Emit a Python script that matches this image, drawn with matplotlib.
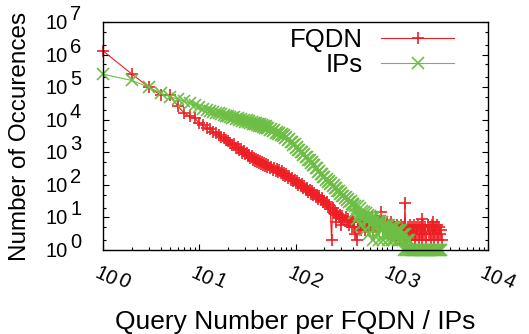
import matplotlib
matplotlib.use('Agg')
import matplotlib.pyplot as plt
from matplotlib.ticker import LogLocator, NullFormatter

plt.rcParams['font.family'] = ['Liberation Sans', 'DejaVu Sans']

RED = '#ee1f24'
GREEN = '#6cbf44'

# occurrences of each query number, FQDN
fqdn_x = [1, 2, 3, 4, 5, 6, 7, 8, 9, 10,
          11, 12, 13, 14, 15, 16, 17, 18, 19, 20,
          21, 22, 23, 24, 25, 26, 27, 28, 29, 30,
          31, 32, 33, 34, 35, 36, 37, 38, 39, 40,
          41, 42, 43, 44, 45, 46, 47, 48, 49, 50,
          52, 54, 56, 58, 60, 62, 64, 66, 68, 70,
          72, 74, 76, 78, 80, 83, 86, 89, 92, 95,
          98, 101, 104, 107, 110, 113, 116, 120, 124, 128,
          132, 136, 140, 144, 148, 152, 157, 162, 167, 172,
          177, 182, 188, 194, 200, 206, 212, 218, 224, 230,
          237, 243, 250, 257, 262, 265, 272, 280, 288, 296,
          300, 305, 314, 323, 332, 342, 352, 362, 373, 384,
          395, 400, 410, 420, 431, 442, 453, 464, 476, 488,
          500, 512, 525, 538, 552, 566, 580, 594, 609, 624,
          640, 656, 672, 689, 706, 724, 742, 761, 780, 799,
          819, 840, 861, 882, 904, 927, 950, 974, 998, 1023,
          1049, 1075, 1102, 1130, 1158, 1187, 1217, 1247, 1278, 1310,
          1343, 1370, 1400, 1435, 1471, 1508, 1546, 1585, 1624, 1665,
          1707, 1749, 1793, 1838, 1884, 1931, 1979, 2029, 2050, 2080,
          2132, 2185, 2240, 2296, 2353, 2412, 2472, 2534, 2597, 2662,
          2700, 2729, 2797, 2867, 2939, 3012, 3088, 3165, 3244, 3300]
fqdn_y = [1300000, 250000, 100000, 56000, 57000, 26000, 16000, 12600, 11000, 7900,
          7100, 5600, 5100, 4200, 3900, 3300, 3050, 2650, 2450, 2250,
          1980, 1640, 1750, 1330, 1480, 1150, 1280, 970, 1090, 860,
          960, 760, 850, 680, 770, 600, 690, 550, 630, 500,
          580, 470, 540, 440, 505, 405, 470, 380, 440, 355,
          405, 320, 365, 290, 330, 265, 305, 245, 282, 225,
          258, 204, 235, 186, 214, 166, 187, 144, 163, 128,
          145, 112, 127, 100, 115, 91, 105, 81, 92, 71,
          80, 62, 70, 54, 63, 50, 56, 43, 49, 38,
          44, 34, 39, 29, 33, 25, 29, 21, 24, 18,
          2, 19, 14, 16, 7, 12, 14, 10, 12, 9,
          6, 11, 9, 8, 10, 7, 9, 6, 8, 5,
          7, 8, 5, 3, 2, 7, 5, 9, 4, 8,
          6, 10, 4, 7, 5, 9, 4, 8, 6, 10,
          4, 7, 5, 9, 4, 8, 5, 7, 15, 6,
          4, 8, 5, 7, 3, 6, 4, 7, 3, 6,
          4, 5, 2, 6, 3, 5, 2, 6, 3, 5,
          2, 28, 4, 2, 5, 3, 6, 2, 5, 3,
          6, 2, 5, 3, 6, 2, 5, 3, 9, 2,
          6, 3, 5, 2, 6, 3, 5, 2, 6, 3,
          7, 2, 5, 3, 6, 2, 5, 3, 4, 2]

# occurrences of each query number, IPs
ip_x = [1, 2, 3, 4, 5, 6, 7, 8, 9, 10,
        11, 12, 13, 14, 15, 16, 17, 18, 19, 20,
        21, 22, 23, 24, 25, 26, 27, 28, 29, 30,
        31, 32, 33, 34, 35, 36, 37, 38, 39, 40,
        41, 42, 43, 44, 45, 46, 47, 48, 49, 50,
        52, 54, 56, 58, 60, 62, 64, 66, 68, 70,
        72, 74, 76, 78, 80, 83, 86, 89, 92, 95,
        98, 101, 104, 107, 110, 113, 116, 120, 124, 128,
        132, 136, 140, 144, 148, 152, 157, 162, 167, 172,
        177, 182, 188, 194, 200, 206, 212, 218, 224, 230,
        236, 243, 250, 257, 265, 272, 280, 288, 296, 305,
        314, 323, 332, 342, 352, 362, 373, 384, 395, 400,
        410, 420, 431, 442, 453, 464, 476, 488, 500, 512,
        525, 538, 552, 566, 580, 594, 609, 624, 640, 656,
        672, 689, 706, 724, 742, 761, 780, 799, 819, 840,
        861, 882, 904, 927, 950, 974, 998, 1023, 1049, 1075,
        1102, 1130, 1158, 1187, 1217, 1247, 1278, 1310, 1343, 1377,
        1411, 1447, 1483, 1520, 1558, 1597, 1637, 1678, 1720, 1763,
        1807, 1852, 1899, 1946, 1995, 2045, 2096, 2148, 2202, 2257,
        2314, 2371, 2431, 2491, 2554, 2618, 2683, 2750, 2819, 2889,
        2961, 3035, 3111, 3189, 3269]
ip_y = [250000, 160000, 100000, 65000, 50000, 43000, 37000, 32000, 28000, 24000,
        22000, 20400, 19000, 17800, 16600, 15800, 14800, 14100, 13200, 12900,
        12500, 11400, 12200, 10600, 11400, 9950, 10700, 9250, 10100, 8700,
        9500, 8250, 9000, 7850, 8600, 7500, 8200, 7150, 7850, 6850,
        7500, 6550, 7150, 6250, 6850, 5950, 6550, 5700, 6250, 5450,
        5700, 4850, 5200, 4420, 4750, 4030, 4320, 3680, 3950, 3350,
        3600, 3060, 3280, 2790, 2990, 2430, 2550, 2070, 2120, 1720,
        1760, 1400, 1430, 1160, 1190, 990, 1040, 840, 860, 700,
        720, 580, 600, 485, 500, 400, 405, 320, 320, 254,
        260, 211, 216, 176, 180, 146, 150, 124, 130, 108,
        114, 94, 97, 78, 81, 65, 67, 54, 56, 45,
        47, 39, 41, 34, 36, 29, 31, 25, 26, 24,
        14, 22, 9, 22, 12, 20, 6, 16, 10, 15,
        4, 14, 8, 12, 3, 11, 6, 10, 2, 10,
        5, 9, 3, 8, 2, 8, 4, 7, 2, 6,
        3, 6, 2, 6, 3, 5, 2, 5, 2, 5,
        3, 4, 2, 4, 2, 4, 2, 3, 1, 3,
        1, 2, 1, 2, 1, 1, 1, 1, 1, 1,
        1, 1, 1, 1, 1, 1, 1, 1, 1, 1,
        1, 1, 1, 1, 1, 1, 1, 1, 1, 1,
        1, 1, 1, 1, 1]

x_exp = [0, 1, 2, 3, 4]
y_exp = [0, 1, 2, 3, 4, 5, 6, 7]

fig = plt.figure(figsize=(5.29, 3.34), dpi=100)
ax = fig.add_axes([103 / 529, 1 - 250 / 334, 385 / 529, 228 / 334])

ax.plot(fqdn_x, fqdn_y, '-', color=RED, lw=0.8, marker='+', ms=9, mew=1.2,
        label='FQDN', clip_on=False)
ax.plot(ip_x, ip_y, '-', color=GREEN, lw=0.8, marker='x', ms=8, mew=1.2,
        label='IPs', clip_on=False)

ax.set_xscale('log')
ax.set_yscale('log')
ax.set_xlim(10 ** x_exp[0], 10 ** x_exp[-1])
ax.set_ylim(10 ** y_exp[0], 10 ** y_exp[-1])

ax.xaxis.set_major_locator(LogLocator(base=10, numticks=10))
ax.xaxis.set_minor_locator(LogLocator(base=10, subs=range(2, 10), numticks=10))
ax.yaxis.set_major_locator(LogLocator(base=10, numticks=10))
ax.yaxis.set_minor_locator(LogLocator(base=10, subs=(2, 5), numticks=10))
ax.xaxis.set_major_formatter(NullFormatter())
ax.xaxis.set_minor_formatter(NullFormatter())
ax.yaxis.set_major_formatter(NullFormatter())
ax.yaxis.set_minor_formatter(NullFormatter())
ax.tick_params(which='both', direction='in', top=False, right=True, width=0.8)
ax.tick_params(which='major', length=4.5)
ax.tick_params(which='minor', length=2.5)
for sp in ax.spines.values():
    sp.set_linewidth(1.0)

# tick labels, exponent drawn about as large as the base
fs_tick = 14.5
for e in y_exp:
    ax.annotate('10', xy=(0, 10 ** e), xycoords=('axes fraction', 'data'),
                xytext=(-35, -7), textcoords='offset pixels',
                ha='right', va='baseline', fontsize=fs_tick)
    ax.annotate(str(e), xy=(0, 10 ** e), xycoords=('axes fraction', 'data'),
                xytext=(-33, 2), textcoords='offset pixels',
                ha='left', va='baseline', fontsize=fs_tick)
for e in x_exp:
    ax.annotate('10', xy=(10 ** e, 0), xycoords=('data', 'axes fraction'),
                xytext=(-3, -13), textcoords='offset pixels',
                ha='left', va='top', rotation=-25, rotation_mode='anchor',
                fontsize=fs_tick)
    ax.annotate(str(e), xy=(10 ** e, 0), xycoords=('data', 'axes fraction'),
                xytext=(20, -20), textcoords='offset pixels',
                ha='left', va='top', rotation=-25, rotation_mode='anchor',
                fontsize=fs_tick)

ax.set_xlabel('Query Number per FQDN / IPs', fontsize=19, labelpad=40)
ax.set_ylabel('Number of Occurences', fontsize=17.5, labelpad=48)

ax.legend(loc='upper right', bbox_to_anchor=(0.912, 0.975), frameon=False,
          markerfirst=False, numpoints=1, fontsize=18.5, handlelength=2.85,
          handletextpad=0.7, labelspacing=0.05, borderpad=0, borderaxespad=0)

plt.savefig('out.png', dpi=100)
